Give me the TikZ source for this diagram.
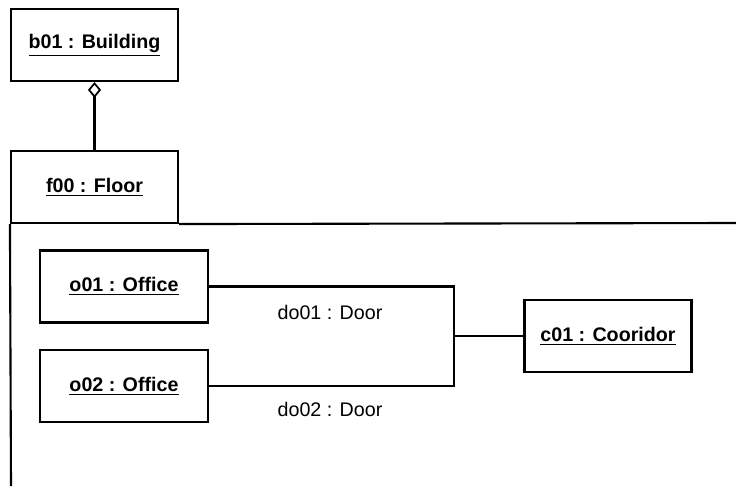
\documentclass[tikz,border=0pt]{standalone}
\usepackage{fontspec}
\setmainfont{Liberation Sans}
\usepackage{tikz}
\usetikzlibrary{arrows.meta, positioning}

\begin{document}
\begin{tikzpicture}[
        obj/.style={draw=black, line width=1.2pt, minimum width=3.34cm, minimum height=1.44cm, font=\fontsize{11.2}{13}\selectfont\bfseries},
        link/.style={line width=1.2pt},
        aggr/.style={line width=1.2pt, -{Diamond[open, length=9pt, width=7.5pt, line width=1pt]}},
        role/.style={font=\fontsize{11.2}{13}\selectfont}
    ]
    \useasboundingbox (0,0) rectangle (14.72,9.72);
    \node[obj] (b01) at (1.89, 8.82) {\underline{b01 : Building}};
    \node[obj] (f00) at (1.89, 5.98) {\underline{f00 : Floor}};
    \coordinate (fr) at (14.72, 5.26);
    \coordinate (fb) at (0.22, 0);
    \draw[link] (f00.south east) -- (fr);
    \draw[link] (f00.south west) -- (fb);
    \draw[aggr] (f00) -- (b01);
    \foreach \i/\y in {1/3.99, 2/2.0} {
            \node[obj, minimum width=3.36cm] (o0\i) at (2.48, \y) {\underline{o0\i{} : Office}};
        }
    \node[obj] (c01) at (12.16, 3.0) {\underline{c01 : Cooridor}};
    \coordinate (j) at (9.08, 3.0);
    \draw[link] (o01.east) -| (j) |- (o02.east);
    \draw[link] (j) -- (c01);
    \node[role] (do01) at (6.6, 3.48) {do01 : Door};
    \node[role] (do02) at (6.6, 1.54) {do02 : Door};
\end{tikzpicture}
\end{document}
